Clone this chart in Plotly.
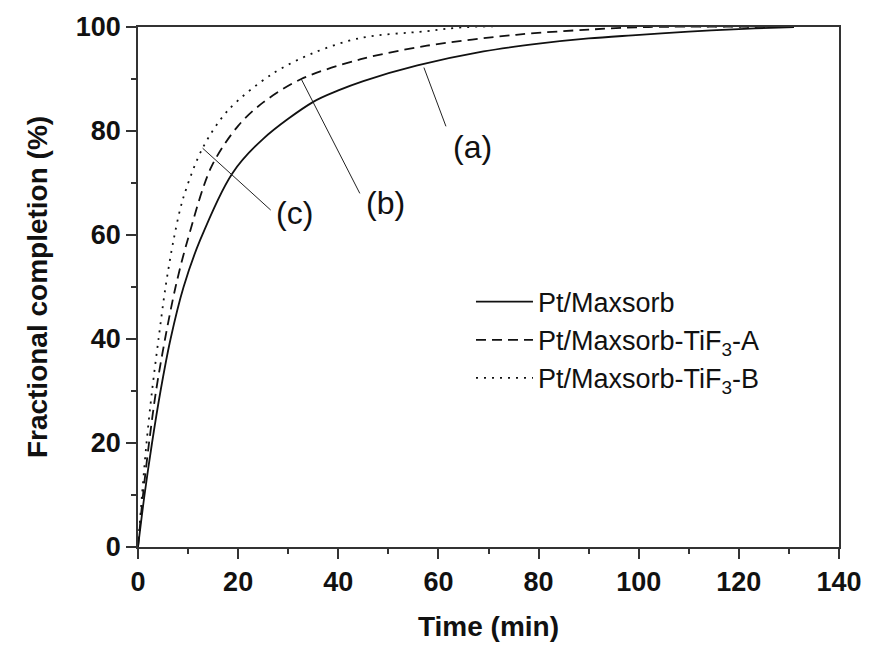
import plotly.graph_objects as go

# Hydrogen uptake kinetics: fractional completion vs. time
time_a = [0, 1.3, 2.8, 4.5, 6.5, 9.1, 12.4, 18.8, 25, 35, 40, 45, 55.8, 69, 80, 90, 98.7, 110, 120, 128, 131]
frac_a = [0, 10, 20, 30, 40, 50, 59, 71.8, 78.5, 85.6, 87.8, 89.6, 92.6, 95.3, 96.8, 97.8, 98.4, 99.1, 99.6, 99.9, 100]

time_b = [0, 1.0, 2.2, 3.6, 5.4, 7.5, 9.9, 14.6, 20, 25, 32.6, 44.5, 57.7, 75.5, 90, 102, 131]
frac_b = [0, 10, 20, 30, 40, 50, 59, 73, 81, 85.5, 90, 93.8, 96.4, 98.5, 99.5, 100, 100]

time_c = [0, 0.8, 1.7, 2.8, 4.1, 5.5, 7.1, 9, 12.9, 18, 26.7, 35, 44.5, 57.7, 66, 131]
frac_c = [0, 10, 20, 30, 40, 50, 59, 67, 76.7, 84, 90.9, 95, 97.9, 99.2, 100, 100]

series_names = ["Pt/Maxsorb", "Pt/Maxsorb-TiF<sub>3</sub>-A", "Pt/Maxsorb-TiF<sub>3</sub>-B"]
curve_labels = ["(a)", "(b)", "(c)"]

FONT = "Arial, Liberation Sans, sans-serif"

fig = go.Figure()
for xs, ys, name, dash in [
    (time_a, frac_a, series_names[0], "solid"),
    (time_b, frac_b, series_names[1], "10px,6px"),
    (time_c, frac_c, series_names[2], "2px,6px"),
]:
    fig.add_trace(go.Scatter(
        x=xs, y=ys, mode="lines", name=name,
        line=dict(color="#111111", width=1.8, dash=dash, shape="spline", smoothing=0.9),
    ))

# leader lines from each curve to its label
leaders = [
    ((57.1, 92.2), (61.5, 80.9), (66.8, 76.9)),
    ((32.6, 90.0), (44.3, 68.0), (49.4, 66.2)),
    ((12.9, 76.7), (26.5, 64.8), (31.2, 64.2)),
]
for (start, end, lab), text in zip(leaders, curve_labels):
    fig.add_shape(type="line", xref="x", yref="y",
                  x0=start[0], y0=start[1], x1=end[0], y1=end[1],
                  line=dict(color="#222222", width=1))
    fig.add_annotation(x=lab[0], y=lab[1], text=text, showarrow=False,
                       font=dict(family=FONT, size=32, color="#111111"))

axis_common = dict(
    showline=True, linecolor="#333333", linewidth=1.5, mirror=True,
    ticks="outside", ticklen=10, tickwidth=1.5, tickcolor="#333333",
    showgrid=False, zeroline=False,
    tickfont=dict(family=FONT, size=27, color="#111111", weight="bold"),
)

fig.update_xaxes(
    range=[0, 140], tick0=0, dtick=20,
    minor=dict(ticks="outside", ticklen=5, tickwidth=1.5, tickcolor="#333333", dtick=10, showgrid=False),
    title=dict(text="Time (min)", font=dict(family=FONT, size=28, color="#111111", weight="bold"), standoff=20),
    **axis_common,
)
fig.update_yaxes(
    range=[0, 100], tick0=0, dtick=20,
    minor=dict(ticks="outside", ticklen=5, tickwidth=1.5, tickcolor="#333333", dtick=10, showgrid=False),
    title=dict(text="Fractional completion (%)", font=dict(family=FONT, size=28, color="#111111", weight="bold"), standoff=20),
    **axis_common,
)

fig.update_layout(
    width=874, height=649,
    margin=dict(l=138, r=28, t=24, b=97),
    plot_bgcolor="white", paper_bgcolor="white",
    showlegend=True,
    legend=dict(
        x=0.475, y=0.518, xanchor="left", yanchor="top",
        bgcolor="rgba(0,0,0,0)", borderwidth=0,
        font=dict(family=FONT, size=27, color="#111111"),
        itemwidth=57,
    ),
)

fig.write_html("out.html")
